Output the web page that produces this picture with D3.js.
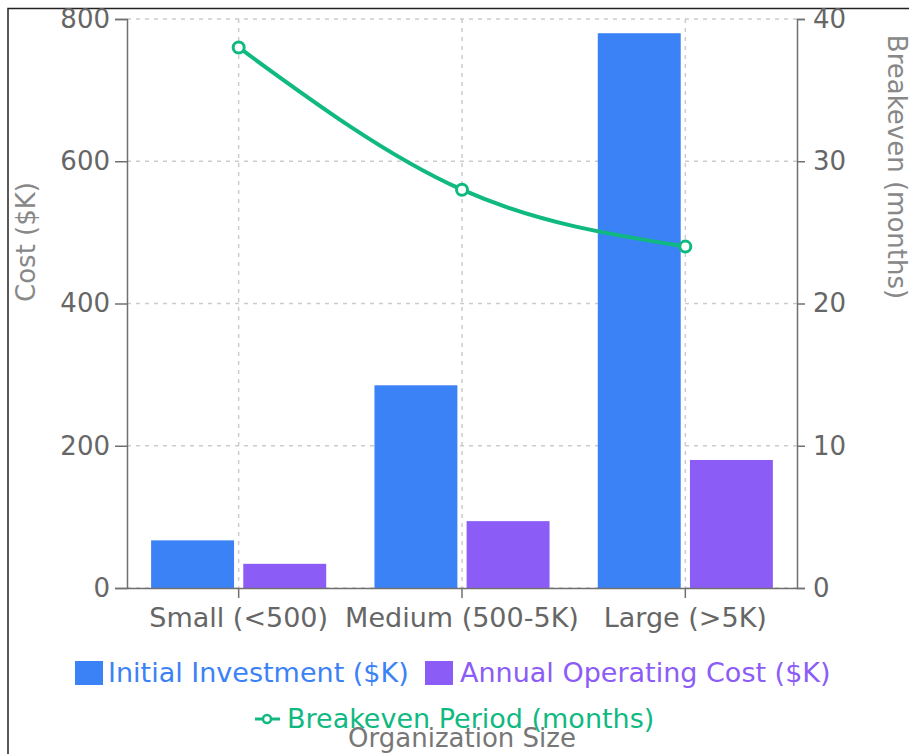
<!DOCTYPE html>
<html>
<head>
<meta charset="utf-8">
<script src="https://cdn.jsdelivr.net/npm/d3@7"></script>
<style>
  html, body { margin: 0; padding: 0; background: #fff; }
  svg { display: block; font-family: "DejaVu Sans", "Noto Sans", sans-serif; }
</style>
</head>
<body>
<svg id="chart" width="909" height="754"></svg>
<script>
// Cost and payback by organization size
const categories = ["Small (<500)", "Medium (500-5K)", "Large (>5K)"];
const initialInvestment = [67, 285, 780];
const annualOperatingCost = [34, 94, 180];
const breakevenMonths = [38, 28, 24];
const costTicks = [0, 200, 400, 600, 800];
const monthTicks = [0, 10, 20, 30, 40];
const seriesNames = ["Initial Investment ($K)", "Annual Operating Cost ($K)", "Breakeven Period (months)"];

const colors = { invest: "#3b82f6", annual: "#8b5cf6", breakeven: "#10b981" };
const axisGray = "#707070";
const textGray = "#666";

const svg = d3.select("#chart");
const m = { left: 127, right: 797, top: 19, bottom: 588 };

// frame
svg.append("path")
  .attr("d", "M8,754 L8,8.5 L909,8.5")
  .attr("fill", "none").attr("stroke", "#222").attr("stroke-width", 1.5);

const x0 = d3.scaleBand().domain(categories).range([m.left, m.right]).paddingInner(0.216).paddingOuter(0.108);
const keys = ["invest", "annual"];
const x1 = d3.scaleBand().domain(keys).range([0, x0.bandwidth()]).paddingInner(0.1).paddingOuter(0);
const yL = d3.scaleLinear().domain([0, 800]).range([m.bottom, m.top]);
const yR = d3.scaleLinear().domain([0, 40]).range([m.bottom, m.top]);
const xc = d => x0(d) + x0.bandwidth() / 2;

// grid
const grid = svg.append("g");
grid.selectAll("line.h").data(costTicks).join("line")
  .attr("x1", m.left).attr("x2", m.right)
  .attr("y1", d => yL(d)).attr("y2", d => yL(d))
  .attr("stroke", "#ccc").attr("stroke-width", 1.5).attr("stroke-dasharray", "4,5");
grid.selectAll("line.v").data(categories).join("line")
  .attr("x1", xc).attr("x2", xc)
  .attr("y1", m.top).attr("y2", m.bottom)
  .attr("stroke", "#ccc").attr("stroke-width", 1.5).attr("stroke-dasharray", "4,5");

// bars
const rows = categories.map((c, i) => ({ cat: c, invest: initialInvestment[i], annual: annualOperatingCost[i] }));
const groups = svg.append("g").selectAll("g").data(rows).join("g")
  .attr("transform", d => `translate(${x0(d.cat)},0)`);
groups.selectAll("rect").data(d => keys.map(k => ({ k, v: d[k] }))).join("rect")
  .attr("x", d => x1(d.k)).attr("width", x1.bandwidth())
  .attr("y", d => yL(d.v)).attr("height", d => yL(0) - yL(d.v))
  .attr("fill", d => colors[d.k]);

// axes
function styleAxis(g, size) {
  g.selectAll(".domain").attr("stroke", axisGray).attr("stroke-width", 1.5);
  g.selectAll(".tick line").attr("stroke", axisGray).attr("stroke-width", 1.5);
  g.selectAll(".tick text").attr("fill", textGray).style("font-size", size)
    .style("font-family", "'DejaVu Sans', sans-serif");
}
svg.append("g").attr("transform", `translate(${m.left},0)`)
  .call(d3.axisLeft(yL).tickValues(costTicks).tickSize(12).tickPadding(5).tickSizeOuter(12))
  .call(styleAxis, "26px");
svg.append("g").attr("transform", `translate(${m.right},0)`)
  .call(d3.axisRight(yR).tickValues(monthTicks).tickSize(8).tickPadding(8).tickSizeOuter(8))
  .call(styleAxis, "26px");
svg.append("g").attr("transform", `translate(0,${m.bottom})`)
  .call(d3.axisBottom(x0).tickSize(10).tickPadding(10).tickSizeOuter(0))
  .call(styleAxis, "27px");

// breakeven line
const line = d3.line().x((d, i) => xc(categories[i])).y(d => yR(d)).curve(d3.curveMonotoneX);
svg.append("path").datum(breakevenMonths).attr("d", line)
  .attr("fill", "none").attr("stroke", colors.breakeven).attr("stroke-width", 4);
svg.append("g").selectAll("circle").data(breakevenMonths).join("circle")
  .attr("cx", (d, i) => xc(categories[i])).attr("cy", d => yR(d)).attr("r", 5.5)
  .attr("fill", "#fff").attr("stroke", colors.breakeven).attr("stroke-width", 3);

// axis titles
svg.append("text").attr("transform", "translate(35,242) rotate(-90)")
  .attr("text-anchor", "middle").attr("fill", "#888").style("font-size", "26px").text("Cost ($K)");
svg.append("text").attr("transform", "translate(888,167) rotate(90)")
  .attr("text-anchor", "middle").attr("fill", "#888").style("font-size", "26px").text("Breakeven (months)");

// legend
const leg = svg.append("g").style("font-size", "27px");
leg.append("rect").attr("x", 75).attr("y", 661).attr("width", 28).attr("height", 24).attr("fill", colors.invest);
leg.append("text").attr("x", 108).attr("y", 682).attr("fill", colors.invest).text(seriesNames[0]);
leg.append("rect").attr("x", 425).attr("y", 661).attr("width", 28).attr("height", 24).attr("fill", colors.annual);
leg.append("text").attr("x", 460).attr("y", 682).attr("fill", colors.annual).text(seriesNames[1]);
leg.append("line").attr("x1", 255).attr("x2", 280).attr("y1", 719).attr("y2", 719)
  .attr("stroke", colors.breakeven).attr("stroke-width", 3);
leg.append("circle").attr("cx", 267).attr("cy", 719).attr("r", 4)
  .attr("fill", "#fff").attr("stroke", colors.breakeven).attr("stroke-width", 2.5);
leg.append("text").attr("x", 287).attr("y", 728).attr("fill", colors.breakeven).text(seriesNames[2]);

// x axis title
svg.append("text").attr("x", 462).attr("y", 747).attr("text-anchor", "middle")
  .attr("fill", "#777").style("font-size", "26px").text("Organization Size");
</script>
</body>
</html>
